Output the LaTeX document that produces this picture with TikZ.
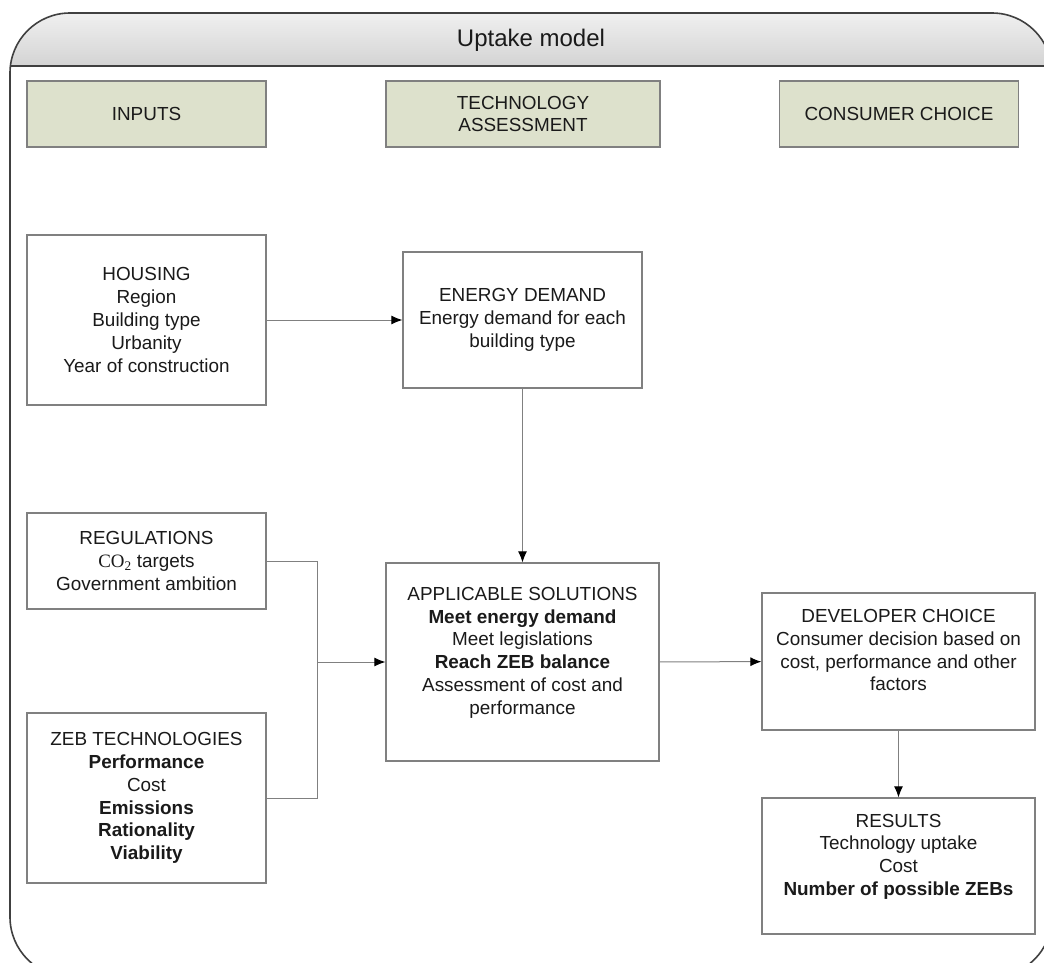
\documentclass[tikz,border=0pt]{standalone}
\usepackage{fontspec}
\setmainfont{Liberation Sans}
\newfontfamily\seriffont{Liberation Serif}
\usepackage{tikz}
\usetikzlibrary{arrows.meta}
\definecolor{headfill}{HTML}{DDE1CC}
\definecolor{boxline}{HTML}{808080}
\definecolor{frameline}{HTML}{404040}
\definecolor{txt}{HTML}{1A1A1A}
\tikzset{
	boxstyle/.style={rectangle,draw=boxline,line width=1.2pt,fill=white,text=txt,align=center,inner sep=0pt},
	headstyle/.style={rectangle,draw=boxline,line width=1.2pt,fill=headfill,text=txt,align=center,inner sep=0pt,minimum width=239pt,minimum height=66pt},
	linkstyle/.style={draw=gray,line width=1pt,-{Latex[length=11pt,width=9pt,color=black]}},
	plainstyle/.style={draw=gray,line width=1pt}
}

\begin{document}
\begin{tikzpicture}[x=1pt,y=-1pt]
		\fontsize{18.9}{22.8}\selectfont
		\useasboundingbox (0,0) rectangle (1044,962);
		\begin{scope}
			\clip[rounded corners=60pt] (10,13) rectangle (1052,977);
			\shade[top color=gray!12,bottom color=gray!34] (10,13) rectangle (1052,66);
		\end{scope}
		\draw[frameline,line width=1.6pt,rounded corners=60pt] (10,13) rectangle (1052,977);
		\draw[frameline,line width=1.6pt] (10,66) -- (1052,66);
		\node[text=txt,font=\fontsize{24}{28}\selectfont] (title) at (531,40) {Uptake model};
		\node[headstyle] (inputs) at (146.5,114) {INPUTS};
		\node[headstyle,minimum width=274pt] (techass) at (523,114) {TECHNOLOGY\\ASSESSMENT};
		\node[headstyle] (conschoice) at (899,114) {CONSUMER CHOICE};
		\node[boxstyle,minimum width=239pt,minimum height=170pt] (housing) at (146.5,320) {HOUSING\\Region\\Building type\\Urbanity\\Year of construction};
		\node[boxstyle,minimum width=239pt,minimum height=136pt] (energy) at (522.5,320) {ENERGY DEMAND\\Energy demand for each\\building type};
		\node[boxstyle,minimum width=239pt,minimum height=96pt] (regs) at (146.5,561) {REGULATIONS\\{\seriffont CO\textsubscript{2}} targets\\Government ambition};
		\node[boxstyle,minimum width=239pt,minimum height=170pt] (zebtech) at (146.5,798) {ZEB TECHNOLOGIES\\\textbf{Performance}\\Cost\\\textbf{Emissions}\\\textbf{Rationality}\\\textbf{Viability}};
		\node[boxstyle,minimum width=273pt,minimum height=198pt] (applsol) at (522.5,662) {APPLICABLE SOLUTIONS\\\textbf{Meet energy demand}\\Meet legislations\\\textbf{Reach ZEB balance}\\Assessment of cost and\\performance\\\mbox{}};
		\node[boxstyle,minimum width=273pt,minimum height=137pt] (devchoice) at (898.5,661.5) {DEVELOPER CHOICE\\Consumer decision based on\\cost, performance and other\\factors\\\mbox{}};
		\node[boxstyle,minimum width=273pt,minimum height=136pt] (results) at (898.5,866) {RESULTS\\Technology uptake\\Cost\\\textbf{Number of possible ZEBs}\\\mbox{}};
		\coordinate (join) at (317,662);
		\draw[linkstyle] (housing)--(energy);
		\draw[linkstyle] (energy)--(applsol);
		\draw[plainstyle] (regs.east) -| (join);
		\draw[plainstyle] (zebtech.east) -| (join);
		\draw[linkstyle] (join)--(applsol.west);
		\draw[linkstyle] (applsol)--(devchoice);
		\draw[linkstyle] (devchoice)--(results);
		\end{tikzpicture}
\end{document}
